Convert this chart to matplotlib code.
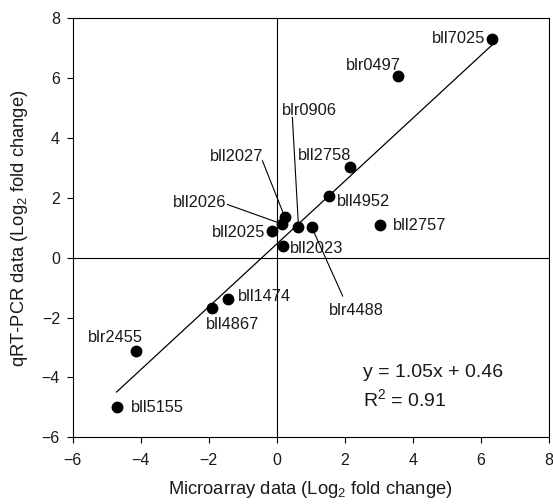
import numpy as np
import matplotlib
matplotlib.use("Agg")
import matplotlib.pyplot as plt

plt.rcParams['font.family'] = ['Liberation Sans', 'DejaVu Sans']
plt.rcParams['mathtext.fontset'] = 'custom'
plt.rcParams['mathtext.rm'] = 'Liberation Sans'
plt.rcParams['mathtext.default'] = 'regular'

# genes, microarray (x) vs qRT-PCR (y), log2 fold change
genes = ["bll7025", "blr0497", "bll2758", "bll4952", "bll2757", "bll2027",
         "bll2026", "blr0906", "blr4488", "bll2025", "bll2023", "bll1474",
         "bll4867", "blr2455", "bll5155"]
microarray = [6.34, 3.56, 2.16, 1.54, 3.04, 0.24,
              0.15, 0.64, 1.03, -0.15, 0.18, -1.42,
              -1.89, -4.14, -4.71]
qrtpcr = [7.30, 6.08, 3.04, 2.08, 1.10, 1.35,
          1.13, 1.04, 1.02, 0.89, 0.39, -1.37,
          -1.68, -3.11, -4.98]

slope, intercept, r2 = 1.05, 0.46, 0.91

# label anchor positions (data coords) and alignment
label_pos = [(6.13, 7.34), (2.83, 6.41), (1.42, 3.41), (2.54, 1.88), (4.21, 1.08), (-1.17, 3.38),
             (-2.26, 1.85), (0.95, 4.91), (2.33, -1.76), (-1.11, 0.84), (1.16, 0.32), (-0.37, -1.31),
             (-1.29, -2.22), (-4.74, -2.65), (-3.51, -5.00)]
label_ha = ["right"] + ["center"] * 14
# leader lines start points for labels placed away from their dot
leaders = {"bll2027": (-0.42, 3.24), "bll2026": (-1.45, 1.78),
           "blr0906": (0.46, 4.69), "blr4488": (1.94, -1.28)}

fig = plt.figure(figsize=(5.53, 5.04), dpi=100)
ax = fig.add_axes([0.1315, 0.1323, 0.8608, 0.8313])

ax.axhline(0, color="black", lw=0.8, zorder=1)
ax.axvline(0, color="black", lw=0.8, zorder=1)

xs = np.array([min(microarray), max(microarray)])
ax.plot(xs, slope * xs + intercept, color="black", lw=0.9, zorder=2)

for g, (lx, ly) in leaders.items():
    i = genes.index(g)
    ax.plot([lx, microarray[i]], [ly, qrtpcr[i]], color="black", lw=0.8, zorder=2)

ax.plot(microarray, qrtpcr, "o", color="black", ms=7.5, zorder=3)

for g, (tx, ty), ha in zip(genes, label_pos, label_ha):
    ax.text(tx, ty, g, ha=ha, va="center", fontsize=11.8, color="#1a1a1a")

ax.text(2.53, -3.98, f"y = {slope:.2f}x + {intercept:.2f}", ha="left", va="baseline",
        fontsize=14, color="#1a1a1a")
ax.text(2.53, -4.96, f"R$^2$ = {r2:.2f}", ha="left", va="baseline", fontsize=14, color="#1a1a1a")

ax.set_xlim(-6, 8)
ax.set_ylim(-6, 8)
ax.set_xticks(np.arange(-6, 9, 2))
ax.set_yticks(np.arange(-6, 9, 2))
ax.tick_params(direction="out", length=4.2, width=0.8, labelsize=11.5, labelcolor="#1a1a1a")
ax.tick_params(axis="x", pad=7)
ax.tick_params(axis="y", pad=5)
for s in ax.spines.values():
    s.set_linewidth(0.8)

ax.set_xlabel("Microarray data (Log$_2$ fold change)", fontsize=13.2, labelpad=8, color="#1a1a1a")
ax.set_ylabel("qRT-PCR data (Log$_2$ fold change)", fontsize=13.2, color="#1a1a1a")
ax.yaxis.set_label_coords(-0.0897, 0.5)

fig.savefig("out.png", dpi=100)
